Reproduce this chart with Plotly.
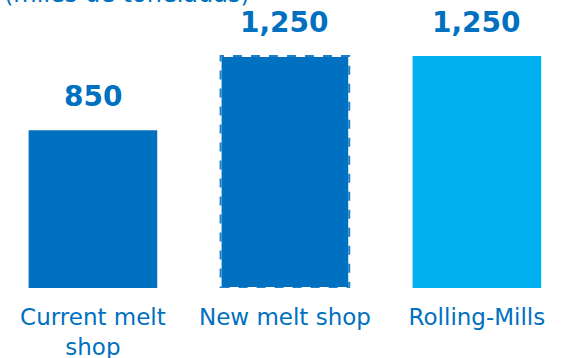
import plotly.graph_objects as go

categories = ["Current melt<br>shop", "New melt shop", "Rolling-Mills"]
values = [850, 1250, 1250]
value_labels = ["850", "1,250", "1,250"]
colors = ["#0070C0", "#0070C0", "#00B0F0"]
dashed = [False, True, False]
subtitle = "(miles de toneladas)"

FONT = "DejaVu Sans"
bar_width = 0.67
xs = list(range(len(categories)))

fig = go.Figure()
fig.add_trace(go.Bar(
    x=xs, y=values, width=bar_width,
    marker=dict(color=colors, line=dict(color=["rgba(0,0,0,0)" if not d else "white" for d in dashed], width=2)),
    hoverinfo="skip",
))

for i, (v, lab, d) in enumerate(zip(values, value_labels, dashed)):
    fig.add_annotation(x=i, y=v, text=f"<b>{lab}</b>", showarrow=False,
                       yanchor="bottom", yshift=15,
                       font=dict(family=FONT, size=28, color="#0070C0"))
    if d:
        fig.add_shape(type="rect", xref="x", yref="y",
                      x0=i - bar_width / 2, x1=i + bar_width / 2, y0=0, y1=v,
                      line=dict(color="#1F80C8", width=2, dash="dash"),
                      fillcolor="rgba(0,0,0,0)")

fig.add_annotation(xref="paper", yref="paper", x=0.449, y=1, xanchor="right",
                   yanchor="bottom", yshift=-10, text=subtitle, showarrow=False,
                   font=dict(family=FONT, size=24, color="#0070C0"))

fig.update_layout(
    width=561, height=358,
    margin=dict(l=0, r=0, t=0, b=70, autoexpand=False),
    paper_bgcolor="white", plot_bgcolor="white",
    showlegend=False,
    xaxis=dict(range=[-0.484, 2.438], tickmode="array", tickvals=xs, ticktext=categories,
               showgrid=False, zeroline=False, showline=False, ticks="",
               ticklabelstandoff=13, automargin=False,
               tickfont=dict(family=FONT, size=23, color="#0070C0")),
    yaxis=dict(range=[0, 1551], visible=False, automargin=False),
)

fig.write_html("out.html")
